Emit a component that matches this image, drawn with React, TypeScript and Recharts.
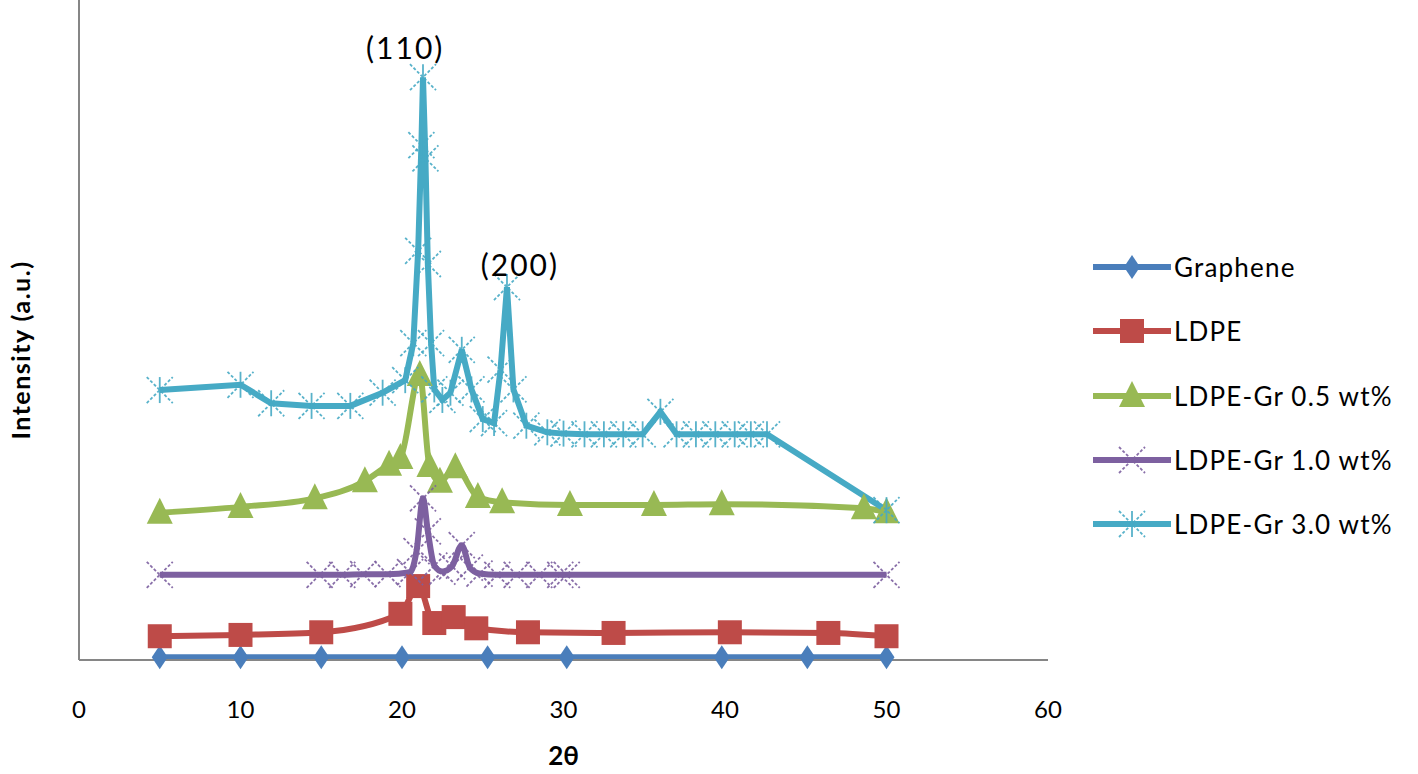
import React from 'react';
import { LineChart, Line, XAxis, YAxis, ReferenceDot } from 'recharts';

// XRD patterns, 2θ vs intensity (a.u., axis 0-100)
const grapheneX = [5, 10, 15, 20, 25.3, 30.2, 39.8, 45.1, 50];
const grapheneY = [0.4, 0.4, 0.4, 0.4, 0.4, 0.4, 0.4, 0.4, 0.4];

const ldpeX = [5, 10, 15, 19.9, 21.0, 22.0, 23.2, 24.6, 27.8, 33.1, 40.3, 46.4, 50];
const ldpeY = [3.6, 3.8, 4.2, 7.0, 11.2, 5.6, 6.5, 4.8, 4.2, 4.1, 4.2, 4.1, 3.6];

const gr05X = [5, 10, 14.6, 17.7, 19.2, 19.9, 21.1, 21.7, 22.35, 23.3, 24.7, 26.2, 30.4, 35.6, 39.8, 48.6, 50];
const gr05Y = [22.3, 23.2, 24.5, 27.1, 29.6, 30.6, 43.2, 29.4, 27.0, 29.2, 24.7, 23.9, 23.5, 23.5, 23.6, 23.0, 22.4];

const gr10X = [5, 14.9, 16.3, 17.6, 19.1, 20.5, 20.9, 21.3, 21.6, 22.0, 22.5, 23.1, 23.7, 24.2, 24.8, 25.9, 27.1, 28.5, 29.8, 30.2, 50];
const gr10Y = [12.9, 12.9, 12.9, 13.0, 13.0, 13.3, 16.5, 24.5, 19.5, 14.3, 13.4, 14.2, 17.4, 14.0, 13.1, 12.9, 12.9, 12.9, 12.9, 12.9, 12.9];

const gr30X = [5, 10, 11.9, 14.4, 16.8, 18.8, 20.2, 20.7, 21.0, 21.2, 21.3, 21.45, 21.6, 21.8, 22.0, 22.5, 23.0, 23.7, 24.3, 25.0, 25.7, 26.1, 26.5, 26.9, 27.7, 29.0, 30.0, 31.3, 32.5, 33.7, 34.9, 36.0, 37.0, 38.2, 39.4, 40.6, 41.6, 42.6, 50];
const gr30Y = [40.9, 41.7, 38.9, 38.5, 38.5, 40.5, 42.4, 48, 62, 78, 88.3, 76, 60, 48, 41, 39.4, 40.5, 47, 41, 36.5, 35.9, 44, 56.5, 41, 35.5, 34.5, 34.3, 34.2, 34.2, 34.2, 34.2, 37.6, 34.2, 34.2, 34.2, 34.2, 34.2, 34.2, 22.7];

const xTicks = [0, 10, 20, 30, 40, 50, 60];

const seriesNames = ['Graphene', 'LDPE', 'LDPE-Gr 0.5 wt%', 'LDPE-Gr 1.0 wt%', 'LDPE-Gr 3.0 wt%'];
const seriesColors = ['#4a7ebb', '#be4b48', '#98b954', '#7d60a0', '#46aac5'];
const seriesShapes = ['diamond', 'square', 'triangle', 'x', 'star'];
const seriesCurve = ['monotone', 'monotone', 'monotone', 'monotone', 'linear'];

const toRows = (xs: number[], ys: number[]) => xs.map((x, i) => ({ x, y: ys[i] }));
const seriesData = [
  toRows(grapheneX, grapheneY),
  toRows(ldpeX, ldpeY),
  toRows(gr05X, gr05Y),
  toRows(gr10X, gr10Y),
  toRows(gr30X, gr30Y),
];

const FONT = 'Lato, "Liberation Sans", sans-serif';

function Marker({ shape, color, cx, cy }: { shape: string; color: string; cx: number; cy: number }) {
  if (shape === 'diamond') {
    return <polygon points={`${cx},${cy - 12} ${cx + 8},${cy} ${cx},${cy + 12} ${cx - 8},${cy}`} fill={color} />;
  }
  if (shape === 'square') {
    return <rect x={cx - 12} y={cy - 12} width={24} height={24} fill={color} />;
  }
  if (shape === 'triangle') {
    return <polygon points={`${cx},${cy - 15} ${cx + 13},${cy + 11} ${cx - 13},${cy + 11}`} fill={color} />;
  }
  const s = 13;
  return (
    <g stroke={color} strokeWidth={1.8} strokeDasharray="3 2" opacity={0.9}>
      <line x1={cx - s} y1={cy - s} x2={cx + s} y2={cy + s} />
      <line x1={cx - s} y1={cy + s} x2={cx + s} y2={cy - s} />
      {shape === 'star' && <line x1={cx} y1={cy - s} x2={cx} y2={cy + s} strokeDasharray="none" />}
    </g>
  );
}

const makeDot = (shape: string, color: string) => (props: any) => {
  const { cx, cy, index } = props;
  if (cx == null || cy == null) return <g key={index} />;
  return (
    <g key={index}>
      <Marker shape={shape} color={color} cx={cx} cy={cy} />
    </g>
  );
};

function LegendBox() {
  return (
    <div style={{ position: 'absolute', left: 1091, top: 235, fontFamily: FONT, fontSize: 26, color: '#000' }}>
      {seriesNames.map((name, i) => (
        <div key={name} style={{ display: 'flex', alignItems: 'center', height: 64.3 }}>
          <svg width={82} height={40} style={{ display: 'block' }}>
            <line x1={2} y1={20} x2={80} y2={20} stroke={seriesColors[i]} strokeWidth={6} />
            <Marker shape={seriesShapes[i]} color={seriesColors[i]} cx={41} cy={20} />
          </svg>
          <span style={{ marginLeft: 1, letterSpacing: 1.2 }}>{name}</span>
        </div>
      ))}
    </div>
  );
}

export default function App() {
  return (
    <div style={{ position: 'absolute', left: 0, top: 0, width: 1418, height: 774, background: '#fff' }}>
      <LineChart width={1418} height={774} margin={{ top: 0, right: 370, left: 0, bottom: 0 }}>
        <XAxis
          dataKey="x"
          type="number"
          domain={[0, 60]}
          ticks={xTicks}
          tickLine={false}
          tickSize={0}
          tickMargin={41}
          height={114}
          axisLine={{ stroke: '#868686', strokeWidth: 2 }}
          tick={{ fill: '#000', fontSize: 24, fontFamily: FONT }}
          label={{ value: '2θ', position: 'insideBottom', offset: 9, fill: '#000', fontSize: 26, fontWeight: 'bold', fontFamily: FONT }}
        />
        <YAxis
          type="number"
          domain={[0, 100]}
          width={79}
          tick={false}
          tickLine={false}
          axisLine={{ stroke: '#868686', strokeWidth: 2 }}
          label={{
            content: () => (
              <text x={20} y={350} transform="rotate(-90 20 350)" textAnchor="middle" dominantBaseline="central"
                fontFamily={FONT} fontSize={25} fontWeight="bold" letterSpacing={1.5} fill="#000">
                Intensity (a.u.)
              </text>
            ),
          }}
        />
        {seriesData.map((d, i) => (
          <Line
            key={seriesNames[i]}
            data={d}
            dataKey="y"
            name={seriesNames[i]}
            type={seriesCurve[i] as any}
            stroke={seriesColors[i]}
            strokeWidth={6}
            dot={makeDot(seriesShapes[i], seriesColors[i])}
            activeDot={false}
            isAnimationActive={false}
          />
        ))}
        <ReferenceDot x={20.2} y={92.7} r={0} fill="none" stroke="none"
          label={{ value: '(110)', position: 'center', fill: '#000', fontSize: 30, letterSpacing: 2, fontFamily: FONT }} />
        <ReferenceDot x={27.3} y={59.8} r={0} fill="none" stroke="none"
          label={{ value: '(200)', position: 'center', fill: '#000', fontSize: 30, letterSpacing: 2, fontFamily: FONT }} />
      </LineChart>
      <LegendBox />
    </div>
  );
}
